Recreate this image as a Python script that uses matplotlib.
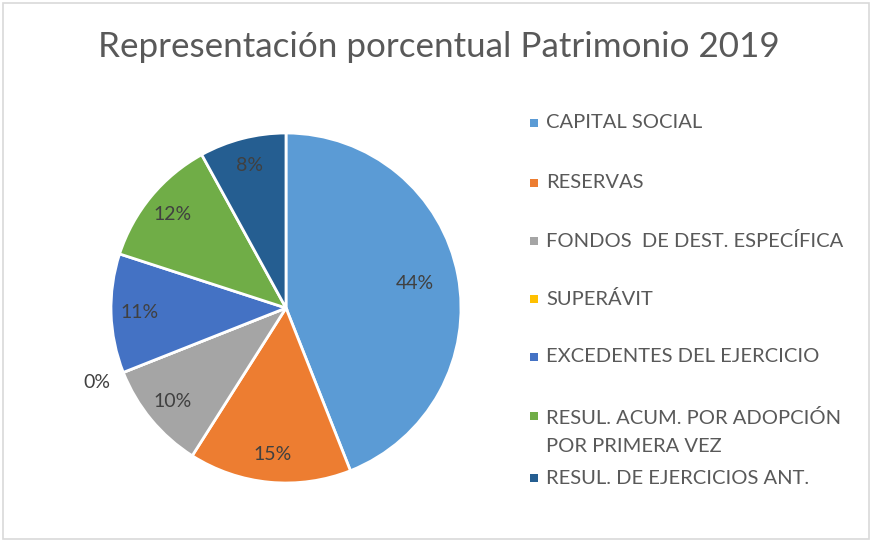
import matplotlib
matplotlib.use("Agg")
import matplotlib.pyplot as plt
from matplotlib.patches import Rectangle
import numpy as np

categories = ["CAPITAL SOCIAL", "RESERVAS", "FONDOS  DE DEST. ESPECÍFICA", "SUPERÁVIT",
              "EXCEDENTES DEL EJERCICIO", "RESUL. ACUM. POR ADOPCIÓN\nPOR PRIMERA VEZ",
              "RESUL. DE EJERCICIOS ANT."]
values = [44, 15, 10, 0, 11, 12, 8]
pct_labels = ["44%", "15%", "10%", "0%", "11%", "12%", "8%"]
colors = ["#5B9BD5", "#ED7D31", "#A5A5A5", "#FFC000", "#4472C4", "#70AD47", "#255E91"]
title = "Representación porcentual Patrimonio 2019"

plt.rcParams['font.family'] = ['Lato', 'DejaVu Sans']

W, H = 872, 542
fig = plt.figure(figsize=(W / 100, H / 100), dpi=100)
fig.patch.set_facecolor("white")
fig.add_artist(Rectangle((3 / W, 3 / H), (W - 6) / W, (H - 6) / H, transform=fig.transFigure,
                         fill=False, edgecolor="#D9D9D9", linewidth=1.2))

ax = fig.add_axes([111 / W, 59 / H, 350 / W, 350 / H])
wedges, _ = ax.pie(values, colors=colors, startangle=90, counterclock=False,
                   wedgeprops=dict(edgecolor="white", linewidth=2))
ax.set_xlim(-1.0, 1.0)
ax.set_ylim(-1.0, 1.0)
ax.set_aspect("equal")
ax.axis("off")

for w, lab, v in zip(wedges, pct_labels, values):
    ang = np.deg2rad((w.theta1 + w.theta2) / 2)
    d = 0.84 if v > 0 else 1.16
    if v >= 40:
        d = 0.75
    ax.text(d * np.cos(ang), d * np.sin(ang), lab, ha="center", va="center",
            fontsize=14, color="#404040", clip_on=False)

fig.text(439 / W, 1 - 47 / H, title, ha="center", va="center", fontsize=25.2, color="#595959")

y_px = [123, 183, 241, 299, 357, 416, 478]
for lab, c, yp in zip(categories, colors, y_px):
    fig.add_artist(Rectangle((530 / W, 1 - (yp + 4) / H), 8 / W, 8 / H, transform=fig.transFigure,
                             facecolor=c, edgecolor="none"))
    if "\n" in lab:
        fig.text(546 / W, 1 - (yp - 7) / H, lab, ha="left", va="top",
                 fontsize=14.5, color="#595959", linespacing=1.8)
    else:
        fig.text(546 / W, 1 - yp / H, lab, ha="left", va="center",
                 fontsize=14.5, color="#595959")

fig.savefig("out.png", dpi=100)
